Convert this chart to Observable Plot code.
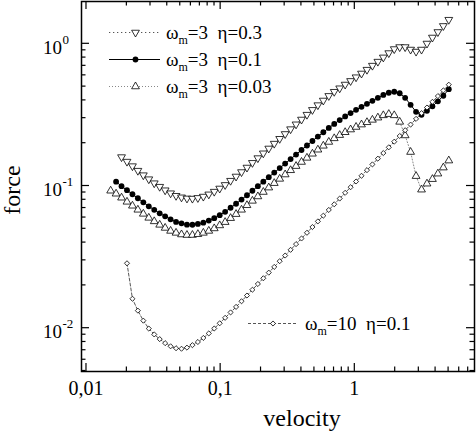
<!DOCTYPE html>
<html>
<head>
<meta charset="utf-8">
<script src="https://cdn.jsdelivr.net/npm/d3@7"></script>
<script src="https://cdn.jsdelivr.net/npm/@observablehq/plot@0.6"></script>
<style>
  html, body { margin: 0; padding: 0; background: #fff; }
  svg { display: block; }
</style>
</head>
<body>
<div id="chart"></div>
<script>
// ---- data ----
const velocity = [0.01514,0.01662,0.01825,0.02004,0.02201,0.02416,0.02653,0.02914,0.03199,0.03513,
  0.03858,0.04236,0.04652,0.05108,0.05609,0.06159,0.06763,0.07430,0.08158,0.08958,
  0.09840,0.1080,0.1186,0.1303,0.1431,0.1571,0.1725,0.1894,0.2080,0.2284,
  0.2509,0.2755,0.3025,0.3322,0.3648,0.4006,0.4399,0.4831,0.5305,0.5825,
  0.6397,0.7024,0.7714,0.8471,0.9302,1.0216,1.1218,1.2320,1.3528,1.4856,
  1.6314,1.7916,1.9674,2.1605,2.3725,2.6054,2.8611,3.1419,3.4503,3.7890,
  4.1609,4.5693,5.0177];

// omega_m = 3, eta = 0.3 (open down-triangles)
const forceW3Eta03 = [null, null,
  0.1598,0.1485,0.1380,0.1282,0.1192,0.1117,0.1047,0.0989,0.0934,0.0890,0.0854,0.0833,
  0.0818,0.0816,0.0825,0.0843,0.0874,0.0913,0.0961,0.1018,0.1090,0.1167,0.1254,0.1349,
  0.1456,0.1572,0.1699,0.1837,0.1987,0.2149,0.2323,0.2512,0.2716,0.2936,0.3175,0.3433,
  0.3706,0.3994,0.4304,0.4602,0.4871,0.5173,0.5484,0.5824,0.6187,0.6581,0.7026,0.7497,
  0.8028,0.8610,0.9190,0.9493,0.9493,0.9115,0.8823,0.9115,1.0049,1.1079,1.2115,1.3357,1.4775];

// omega_m = 3, eta = 0.1 (filled circles)
const forceW3Eta01 = [null,
  0.1072,0.0997,0.0934,0.0875,0.0820,0.0768,0.0720,0.0680,0.0642,0.0612,0.0583,0.0559,0.0546,
  0.0535,0.0534,0.0541,0.0552,0.0571,0.0594,0.0624,0.0658,0.0703,0.0750,0.0803,0.0861,
  0.0926,0.0997,0.1072,0.1154,0.1242,0.1336,0.1438,0.1547,0.1664,0.1791,0.1927,0.2073,
  0.2227,0.2388,0.2562,0.2734,0.2908,0.3083,0.3260,0.3433,0.3604,0.3785,0.3974,0.4173,
  0.4368,0.4527,0.4602,0.4490,0.4173,0.3724,0.3323,0.3165,0.3377,0.3634,0.3941,0.4311,0.4793];

// omega_m = 3, eta = 0.03 (open up-triangles)
const forceW3Eta003 = [
  0.0926,0.0882,0.0827,0.0774,0.0726,0.0680,0.0637,0.0597,0.0564,0.0533,
  0.0507,0.0483,0.0468,0.0456,0.0452,0.0452,0.0458,0.0468,0.0483,0.0503,
  0.0528,0.0557,0.0594,0.0634,0.0680,0.0732,0.0786,0.0844,0.0907,0.0974,
  0.1047,0.1122,0.1204,0.1290,0.1380,0.1475,0.1577,0.1685,0.1799,0.1917,
  0.2040,0.2163,0.2278,0.2388,0.2495,0.2600,0.2703,0.2806,0.2917,0.3024,
  0.3139,0.3201,0.3139,0.2824,0.2267,0.1733,0.1173,0.0942,0.1038,0.1117,
  0.1221,0.1347,0.1509];

// omega_m = 10, eta = 0.1 (open diamonds)
const forceW10Eta01 = [null, null, null,
  0.02861,0.01611,0.01329,0.01130,0.00994,0.00904,0.00838,0.00785,0.00746,0.00723,
  0.00717,0.00730,0.00760,0.00800,0.00854,0.00919,0.00995,0.01083,0.01183,0.01291,
  0.01412,0.01547,0.01697,0.01865,0.02046,0.02245,0.02459,0.02698,0.02960,0.03243,
  0.03557,0.03903,0.04275,0.04690,0.05146,0.05638,0.06186,0.06787,0.07436,0.08160,
  0.08953,0.09806,0.1076,0.1180,0.1293,0.1419,0.1557,0.1705,0.1871,0.2050,
  0.2248,0.2467,0.2703,0.2966,0.3254,0.3563,0.3910,0.4290,0.4700,0.5157];

const xMajorTicks = [0.01, 0.1, 1];
const xTickLabels = ["0,01", "0,1", "1"];
const xMinorTicks = [0.02,0.03,0.04,0.05,0.06,0.07,0.08,0.09,0.2,0.3,0.4,0.5,0.6,0.7,0.8,0.9,2,3,4,5,6,7];
const yMajorTicks = [0.01, 0.1, 1];
const yTickExponents = ["-2", "-1", "0"];
const yMinorTicks = [0.005,0.006,0.007,0.008,0.009,0.02,0.03,0.04,0.05,0.06,0.07,0.08,0.09,0.2,0.3,0.4,0.5,0.6,0.7,0.8,0.9];

const legendLabels = [
  {w: "3", eta: "0.3"},
  {w: "3", eta: "0.1"},
  {w: "3", eta: "0.03"},
  {w: "10", eta: "0.1"}
];

(function () {
  const rows = vals => velocity.map((v, i) => ({v, f: vals[i]})).filter(d => d.f != null);
  const dA = rows(forceW3Eta03), dB = rows(forceW3Eta01), dC = rows(forceW3Eta003), dD = rows(forceW10Eta01);

  const triDown = {
    draw(ctx, size) {
      const y = -Math.sqrt(size / (Math.sqrt(3) * 3));
      ctx.moveTo(0, -y * 2);
      ctx.lineTo(-Math.sqrt(3) * y, y);
      ctx.lineTo(Math.sqrt(3) * y, y);
      ctx.closePath();
    }
  };

  const W = 476, H = 434, mL = 81, mR = 2, mT = 1, mB = 63;
  const FONT = "'Liberation Serif', 'Times New Roman', serif";

  const styleA = {stroke: "#555", strokeDasharray: "1.3,2.7"};
  const styleB = {stroke: "#000", strokeDasharray: null};
  const styleC = {stroke: "#888", strokeDasharray: "1,2"};
  const styleD = {stroke: "#555", strokeDasharray: "3,2"};

  const rTri = 2.9, rCirc = 2.9, rDiam = 2.3;

  const plot = Plot.plot({
    width: W, height: H,
    marginLeft: mL, marginRight: mR, marginTop: mT, marginBottom: mB,
    style: {background: "white", fontFamily: FONT, overflow: "visible"},
    x: {type: "log", domain: [0.00918, 7.80], axis: null},
    y: {type: "log", domain: [0.00496, 1.984], axis: null},
    marks: [
      Plot.line(dA, {x: "v", y: "f", strokeWidth: 1, ...styleA}),
      Plot.line(dB, {x: "v", y: "f", strokeWidth: 1, ...styleB}),
      Plot.line(dC, {x: "v", y: "f", strokeWidth: 1, ...styleC}),
      Plot.line(dD, {x: "v", y: "f", strokeWidth: 1, ...styleD}),
      Plot.dot(dA, {x: "v", y: "f", symbol: triDown, r: rTri, fill: "white", stroke: "black", strokeWidth: 0.8}),
      Plot.dot(dB, {x: "v", y: "f", symbol: "circle", r: rCirc, fill: "black", stroke: "none"}),
      Plot.dot(dC, {x: "v", y: "f", symbol: "triangle", r: rTri, fill: "white", stroke: "black", strokeWidth: 0.8}),
      Plot.dot(dD, {x: "v", y: "f", symbol: "diamond2", r: rDiam, fill: "white", stroke: "black", strokeWidth: 0.8}),
      Plot.frame({stroke: "black", strokeWidth: 1.5})
    ]
  });
  document.getElementById("chart").appendChild(plot);

  const svg = d3.select(plot);
  const sx = plot.scale("x"), sy = plot.scale("y");
  const X = v => sx.apply(v), Y = v => sy.apply(v);
  const fL = mL, fR = W - mR, fT = mT, fB = H - mB;
  const g = svg.append("g").attr("stroke", "black").attr("stroke-width", 1.2);

  function xTick(v, len) {
    g.append("line").attr("x1", X(v)).attr("x2", X(v)).attr("y1", fB).attr("y2", fB - len);
    g.append("line").attr("x1", X(v)).attr("x2", X(v)).attr("y1", fT).attr("y2", fT + len);
  }
  function yTick(v, len) {
    g.append("line").attr("y1", Y(v)).attr("y2", Y(v)).attr("x1", fL).attr("x2", fL + len);
    g.append("line").attr("y1", Y(v)).attr("y2", Y(v)).attr("x1", fR).attr("x2", fR - len);
  }
  xMajorTicks.forEach(v => xTick(v, 8));
  xMinorTicks.forEach(v => xTick(v, 4.5));
  yMajorTicks.forEach(v => yTick(v, 8));
  yMinorTicks.forEach(v => yTick(v, 4.5));

  const tg = svg.append("g").attr("font-family", FONT).attr("fill", "black").attr("text-anchor", "start");
  xMajorTicks.forEach((v, i) => {
    tg.append("text").attr("x", X(v)).attr("y", 395).attr("text-anchor", "middle")
      .attr("font-size", 20).text(xTickLabels[i]);
  });
  yMajorTicks.forEach((v, i) => {
    tg.append("text").attr("x", 62).attr("y", Y(v) + 10.5).attr("text-anchor", "end")
      .attr("font-size", 19).text("10");
    tg.append("text").attr("x", 62.5).attr("y", Y(v) + 0.5).attr("text-anchor", "start")
      .attr("font-size", 13).text(yTickExponents[i]);
  });

  tg.append("text").attr("x", 302).attr("y", 426).attr("text-anchor", "middle")
    .attr("font-size", 24).text("velocity");
  tg.append("text").attr("transform", "translate(20,190) rotate(-90)").attr("text-anchor", "middle")
    .attr("font-size", 24).text("force");

  // ---- legend ----
  const legend = [
    {y: 32.5, x0: 109, x1: 160, xm: 135.5, tx: 166, line: styleA, sym: triDown, size: Math.PI * rTri * rTri, fill: "white"},
    {y: 59.5, x0: 109, x1: 160, xm: 135.5, tx: 166, line: styleB, sym: d3.symbolCircle, size: Math.PI * rCirc * rCirc, fill: "black"},
    {y: 86.5, x0: 109, x1: 160, xm: 135.5, tx: 166, line: styleC, sym: d3.symbolTriangle, size: Math.PI * rTri * rTri, fill: "white"},
    {y: 323.5, x0: 248, x1: 298, xm: 273, tx: 305, line: styleD, sym: d3.symbolDiamond2, size: Math.PI * rDiam * rDiam, fill: "white"}
  ];
  const lg = svg.append("g").attr("text-anchor", "start");
  legend.forEach((it, i) => {
    lg.append("line").attr("x1", it.x0).attr("x2", it.x1).attr("y1", it.y).attr("y2", it.y)
      .attr("stroke", it.line.stroke).attr("stroke-width", 1)
      .attr("stroke-dasharray", it.line.strokeDasharray);
    lg.append("path").attr("transform", `translate(${it.xm},${it.y})`)
      .attr("d", d3.symbol(it.sym, it.size)())
      .attr("fill", it.fill).attr("stroke", it.fill === "black" ? "none" : "black").attr("stroke-width", 0.8);
    const t = lg.append("text").attr("x", it.tx).attr("y", it.y + 6.5).attr("text-anchor", "start")
      .attr("font-family", FONT).attr("font-size", 19).attr("fill", "black");
    t.append("tspan").text("ω");
    t.append("tspan").attr("font-size", 12).attr("dy", 5).text("m");
    t.append("tspan").attr("dy", -5).text("=" + legendLabels[i].w + "\u00a0\u00a0η=" + legendLabels[i].eta);
  });
})();
</script>
</body>
</html>
